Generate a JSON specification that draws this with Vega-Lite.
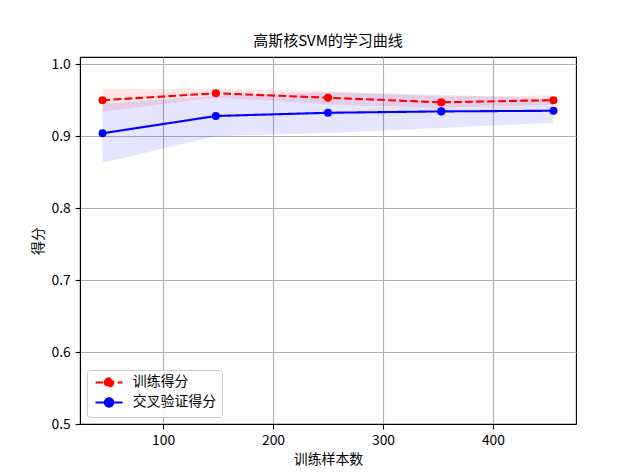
{
  "$schema": "https://vega.github.io/schema/vega-lite/v6.json",
  "width": 496,
  "height": 367,
  "autosize": {"type": "none"},
  "padding": {"left": 80, "top": 57, "right": 64, "bottom": 52},
  "background": "white",
  "title": {"text": "高斯核SVM的学习曲线", "fontSize": 15, "font": "Noto Sans CJK SC", "fontWeight": "normal", "offset": 8, "color": "black"},
  "data": {"values": [
    {"n": 45, "series": "训练得分", "score": 0.950, "lo": 0.934, "hi": 0.966},
    {"n": 148, "series": "训练得分", "score": 0.9596, "lo": 0.9536, "hi": 0.9656},
    {"n": 250, "series": "训练得分", "score": 0.9534, "lo": 0.9444, "hi": 0.9624},
    {"n": 353, "series": "训练得分", "score": 0.947, "lo": 0.939, "hi": 0.955},
    {"n": 455, "series": "训练得分", "score": 0.950, "lo": 0.9435, "hi": 0.9565},
    {"n": 45, "series": "交叉验证得分", "score": 0.904, "lo": 0.863, "hi": 0.945},
    {"n": 148, "series": "交叉验证得分", "score": 0.928, "lo": 0.900, "hi": 0.956},
    {"n": 250, "series": "交叉验证得分", "score": 0.9325, "lo": 0.9045, "hi": 0.9605},
    {"n": 353, "series": "交叉验证得分", "score": 0.9344, "lo": 0.9114, "hi": 0.9574},
    {"n": 455, "series": "交叉验证得分", "score": 0.9353, "lo": 0.9186, "hi": 0.952}
  ]},
  "encoding": {
    "x": {"field": "n", "type": "quantitative", "scale": {"domain": [24.5, 475.5], "nice": false, "zero": false},
      "axis": {"values": [100, 200, 300, 400], "title": "训练样本数", "titlePadding": 5}}
  },
  "resolve": {"legend": {"color": "independent", "strokeDash": "independent"}},
  "layer": [
    {
      "mark": {"type": "area", "opacity": 0.1},
      "encoding": {
        "y": {"field": "lo", "type": "quantitative"},
        "y2": {"field": "hi"},
        "color": {"field": "series", "type": "nominal", "legend": null}
      }
    },
    {
      "mark": {"type": "line", "strokeWidth": 2.1},
      "encoding": {
        "y": {"field": "score", "type": "quantitative",
          "scale": {"domain": [0.5, 1.01], "nice": false, "zero": false},
          "axis": {"values": [0.5, 0.6, 0.7, 0.8, 0.9, 1.0], "format": ".1f", "title": "得分", "titlePadding": 5}},
        "color": {"field": "series", "type": "nominal",
          "scale": {"domain": ["训练得分", "交叉验证得分"], "range": ["#ff0000", "#0000ff"]},
          "legend": {
            "title": null, "orient": "bottom-left", "offset": 7,
            "symbolType": "M-3,0H3M-0.92,0A0.92,0.92 0 1,1 0.92,0A0.92,0.92 0 1,1 -0.92,0Z",
            "symbolSize": 81, "symbolStrokeWidth": 2.1, "symbolOffset": 9.6, "labelOffset": 16.8,
            "labelFontSize": 13.9, "labelFont": "Noto Sans CJK SC", "labelColor": "black",
            "padding": 5.5, "rowPadding": 2, "fillColor": "rgba(255,255,255,0.8)", "strokeColor": "#cccccc",
            "cornerRadius": 3, "symbolOpacity": 1,
            "encoding": {"symbols": {
              "fill": {"condition": {"test": "datum.value === '训练得分'", "value": "#ff0000"}, "value": "#0000ff"}}}
          }},
        "strokeDash": {"field": "series", "type": "nominal",
          "scale": {"domain": ["训练得分", "交叉验证得分"], "range": [[7.7, 3.3], [1, 0]]}}
      }
    },
    {
      "mark": {"type": "point", "filled": true, "size": 65, "opacity": 1},
      "encoding": {
        "y": {"field": "score", "type": "quantitative"},
        "color": {"field": "series", "type": "nominal", "legend": null}
      }
    }
  ],
  "config": {
    "font": "Noto Sans CJK SC",
    "view": {"stroke": "black", "strokeWidth": 1.1},
    "axis": {"domainColor": "black", "domainWidth": 1.1, "tickColor": "black", "tickSize": 4.9, "tickWidth": 1.1,
      "gridColor": "#b0b0b0", "gridWidth": 1.1, "labelFont": "Noto Sans CJK SC", "labelFontSize": 13.9, "labelColor": "black",
      "titleFont": "Noto Sans CJK SC", "titleFontSize": 13.9, "titleFontWeight": "normal", "titleColor": "black", "labelPadding": 4.9}
  }
}
